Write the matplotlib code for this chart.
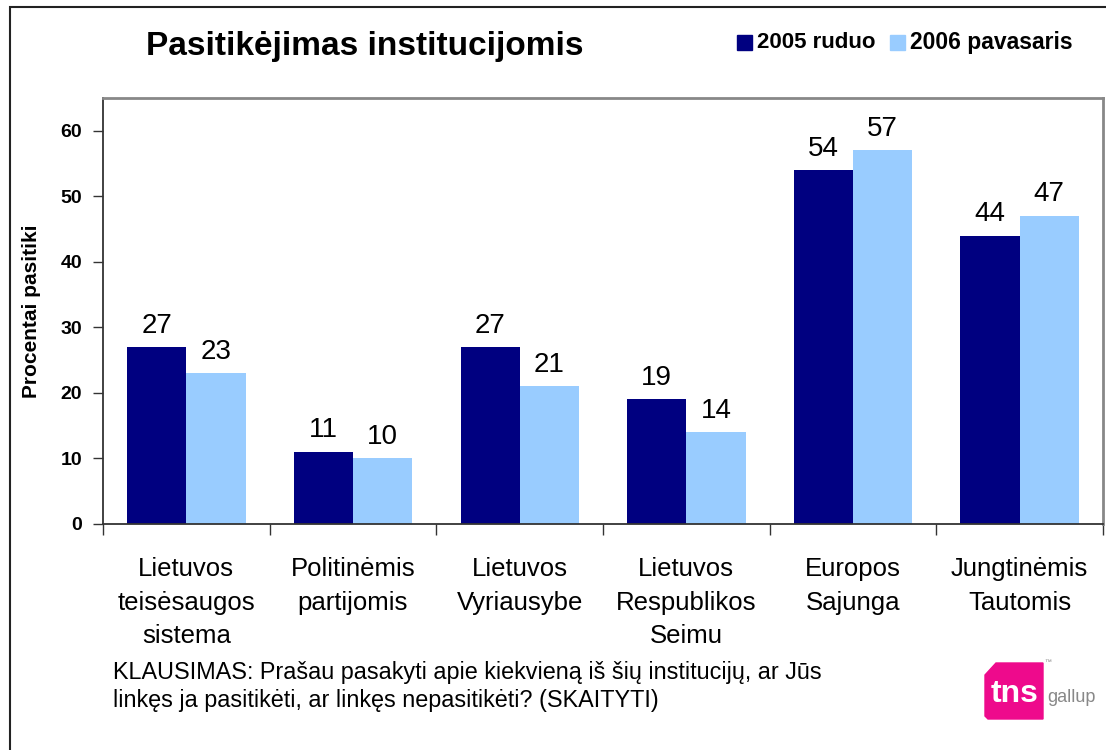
import numpy as np
import matplotlib
matplotlib.use("Agg")
import matplotlib.pyplot as plt
from matplotlib.patches import Rectangle, Polygon

plt.rcParams['font.family'] = ['Liberation Sans', 'DejaVu Sans']

# data
categories = ["Lietuvos\nteisėsaugos\nsistema", "Politinėmis\npartijomis", "Lietuvos\nVyriausybe",
              "Lietuvos\nRespublikos\nSeimu", "Europos\nSajunga", "Jungtinėmis\nTautomis"]
series_names = ["2005 ruduo", "2006 pavasaris"]
values_2005 = [27, 11, 27, 19, 54, 44]
values_2006 = [23, 10, 21, 14, 57, 47]
yticks = [0, 10, 20, 30, 40, 50, 60]

dark = "#000080"
light = "#99CCFF"

W, H = 1106, 750
fig = plt.figure(figsize=(W / 100, H / 100), dpi=100)

# outer frame
fig.patches.append(Rectangle((9.5 / W, -0.05), 1.2, 1 - 6.5 / H + 0.05, transform=fig.transFigure,
                             fill=False, edgecolor="#222222", linewidth=1.5))

ax = fig.add_axes([103 / W, (H - 524) / H, 1000 / W, 426 / H])
x = np.arange(len(categories))
bw = 0.355
ax.bar(x - bw / 2, values_2005, bw, color=dark, label=series_names[0])
ax.bar(x + bw / 2, values_2006, bw, color=light, label=series_names[1])

for xi, v in zip(x - bw / 2, values_2005):
    ax.text(xi, v + 1.3, str(v), ha="center", va="bottom", fontsize=20)
for xi, v in zip(x + bw / 2, values_2006):
    ax.text(xi, v + 1.3, str(v), ha="center", va="bottom", fontsize=20)

ax.set_xlim(-0.5, len(categories) - 0.5)
ax.set_ylim(0, 65)
ax.set_yticks(yticks)
ax.set_yticklabels([str(t) for t in yticks], fontsize=14, fontweight="bold")
ax.tick_params(axis="y", length=7, width=1, pad=8, color="#333333")

ax.set_xticks(x)
ax.set_xticklabels(categories, fontsize=18.5, linespacing=1.5)
ax.set_xticks(np.arange(len(categories) + 1) - 0.5, minor=True)
ax.tick_params(axis="x", which="major", length=0, pad=24)
ax.tick_params(axis="x", which="minor", length=8, width=1, color="#333333")

ax.set_ylabel("Procentai pasitiki", fontsize=15, fontweight="bold", labelpad=14)

for s in ["left", "bottom"]:
    ax.spines[s].set_color("#333333")
    ax.spines[s].set_linewidth(1.3)
for s in ["top", "right"]:
    ax.spines[s].set_color("#888888")
    ax.spines[s].set_linewidth(2)

# title and legend
fig.text(365 / W, 1 - 47 / H, "Pasitikėjimas institucijomis", fontsize=24, fontweight="bold",
         ha="center", va="center")
fig.patches.append(Rectangle((737 / W, 1 - 50 / H), 15 / W, 15 / H, transform=fig.transFigure,
                             color=dark))
fig.text(757 / W, 1 - 42 / H, series_names[0], fontsize=16, fontweight="bold", va="center")
fig.patches.append(Rectangle((890 / W, 1 - 50 / H), 15 / W, 15 / H, transform=fig.transFigure,
                             color=light))
fig.text(910 / W, 1 - 42 / H, series_names[1], fontsize=16.5, fontweight="bold", va="center")

# footnote
fig.text(113 / W, 1 - 673 / H, "KLAUSIMAS: Prašau pasakyti apie kiekvieną iš šių institucijų, ar Jūs",
         fontsize=16.8, va="center")
fig.text(113 / W, 1 - 701 / H, "linkęs ja pasitikėti, ar linkęs nepasitikėti? (SKAITYTI)",
         fontsize=16.8, va="center")

# logo
px = [985, 996, 1043, 1043, 988, 985]
py = [675, 663, 663, 719, 719, 716]
fig.patches.append(Polygon([(a / W, 1 - b / H) for a, b in zip(px, py)], closed=True,
                           transform=fig.transFigure, color="#EE0A8C"))
fig.text(1015 / W, 1 - 694 / H, "tns", fontsize=23, fontweight="bold", color="white",
         ha="center", va="center")
fig.text(1047 / W, 1 - 697 / H, "gallup", fontsize=13, color="#888888", va="center")
fig.text(1044 / W, 1 - 662 / H, "™", fontsize=5, color="#888888", va="center")

fig.savefig("out.png", dpi=100)
